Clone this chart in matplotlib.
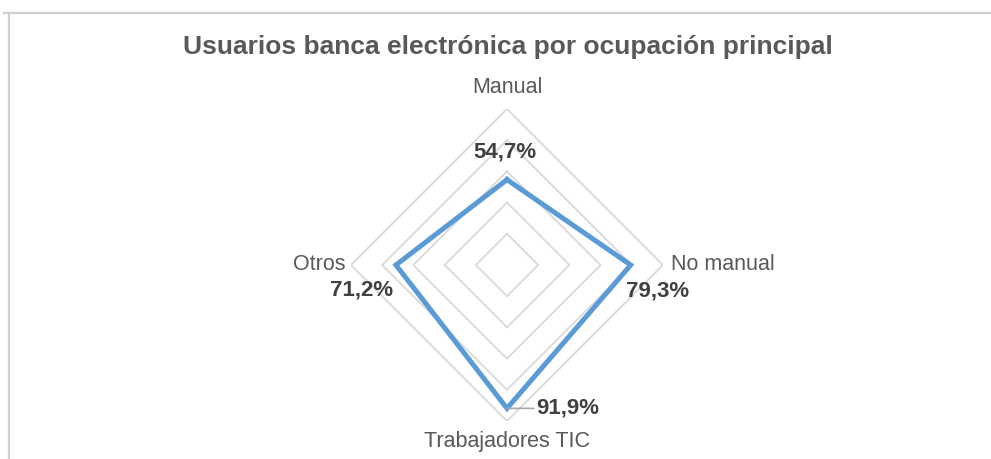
import numpy as np
import matplotlib
matplotlib.use("Agg")
import matplotlib.pyplot as plt
from matplotlib.lines import Line2D

# Datos
categorias = ["Manual", "No manual", "Trabajadores TIC", "Otros"]
valores = [54.7, 79.3, 91.9, 71.2]
etiquetas = ["54,7%", "79,3%", "91,9%", "71,2%"]
anillos = [20, 40, 60, 80, 100]

plt.rcParams['font.family'] = ['Liberation Sans', 'DejaVu Sans']
gris_texto = '#595959'
gris_valor = '#404040'
azul = '#5B9BD5'

fig = plt.figure(figsize=(9.91, 4.59), dpi=100)

# marco del gráfico (borde superior e izquierdo)
fig.add_artist(Line2D([4/991, 1], [1 - 12.5/459, 1 - 12.5/459], color='#D0D0D0', lw=1.6,
                      transform=fig.transFigure))
fig.add_artist(Line2D([8.5/991, 8.5/991], [0, 1 - 12.5/459], color='#D0D0D0', lw=1.6,
                      transform=fig.transFigure))

fig.text(0.512, 1 - 47/459, "Usuarios banca electrónica por ocupación principal",
         ha='center', va='center', fontsize=19, fontweight='bold', color=gris_texto)

# ejes polares centrados en el rombo
ax = fig.add_axes([(507 - 156) / 991, (459 - 265 - 156) / 459, 312 / 991, 312 / 459],
                  projection='polar')
ax.set_theta_offset(np.pi / 2)
ax.set_theta_direction(-1)
ax.set_ylim(0, 100)
ax.grid(False)
ax.spines['polar'].set_visible(False)
ax.set_xticks([])
ax.set_yticks([])
ax.patch.set_alpha(0)

angulos = np.linspace(0, 2 * np.pi, len(categorias), endpoint=False)
ang_cerrado = np.append(angulos, angulos[0])

for r in anillos:
    ax.plot(ang_cerrado, [r] * len(ang_cerrado), color='#D9D9D9', lw=1.3, zorder=1)

ax.plot(ang_cerrado, valores + valores[:1], color=azul, lw=3.6, zorder=3,
        solid_joinstyle='miter')

# nombres de categoría
desp_cat = [(0, 8), (6, 0), (0, -7), (-4, 0)]
alin_cat = [('center', 'bottom'), ('left', 'center'), ('center', 'top'), ('right', 'center')]
for ang, cat, d, (ha, va) in zip(angulos, categorias, desp_cat, alin_cat):
    ax.annotate(cat, (ang, 100), xytext=d, textcoords='offset points',
                ha=ha, va=va, fontsize=15.5, color=gris_texto, annotation_clip=False)

# etiquetas de valor
desp_val = [(-1.5, 20), (19, -19), (44, 0), (-24.5, -18)]
for i, (ang, v, et, d) in enumerate(zip(angulos, valores, etiquetas, desp_val)):
    flecha = None
    if i == 2:
        flecha = dict(arrowstyle='-', color='#A6A6A6', lw=1.2, shrinkA=0, shrinkB=0)
    ax.annotate(et, (ang, v), xytext=d, textcoords='offset points',
                ha='center', va='center', fontsize=16, fontweight='bold',
                color=gris_valor, arrowprops=flecha, annotation_clip=False)

fig.savefig("out.png", dpi=100)
